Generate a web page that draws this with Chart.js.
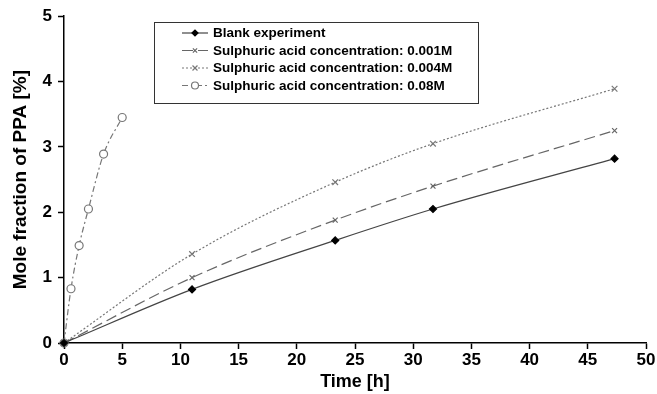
<!DOCTYPE html>
<html>
<head>
<meta charset="utf-8">
<script src="https://cdn.jsdelivr.net/npm/chart.js@4/dist/chart.umd.min.js"></script>
<style>
  html, body { margin: 0; padding: 0; background: #fff; }
  #wrap { width: 657px; height: 394px; }
</style>
</head>
<body>
<div id="wrap"><canvas id="ppaChart"></canvas></div>
<script>
// series values (time in h, mole fraction in %)
const blankTime = [0, 11, 23.3, 31.7, 47.3];
const blankValues = [0, 0.82, 1.57, 2.05, 2.82];

const acid001Time = [0, 11, 23.3, 31.7, 47.3];
const acid001Values = [0, 1.0, 1.88, 2.4, 3.25];

const acid004Time = [0, 11, 23.3, 31.7, 47.3];
const acid004Values = [0, 1.36, 2.46, 3.05, 3.89];

const acid08Time = [0, 0.6, 1.3, 2.1, 3.4, 5.0];
const acid08Values = [0, 0.83, 1.49, 2.05, 2.89, 3.45];

const seriesLabels = [
    'Blank experiment',
    'Sulphuric acid concentration: 0.001M',
    'Sulphuric acid concentration: 0.004M',
    'Sulphuric acid concentration: 0.08M'
];

const xTicks = [0, 5, 10, 15, 20, 25, 30, 35, 40, 45, 50];
const yTicks = [0, 1, 2, 3, 4, 5];

const fontFamily = 'Arial, "Liberation Sans", sans-serif';

function toPoints(xs, ys) {
    return xs.map((x, i) => ({ x: x, y: ys[i] }));
}

// legend drawn inside the plot, with a box around it
const boxLegend = {
    id: 'boxLegend',
    afterDraw(chart) {
        const ctx = chart.ctx;
        const left = 154, top = 22, width = 324, height = 81;
        ctx.save();
        ctx.strokeStyle = '#333';
        ctx.lineWidth = 1;
        ctx.strokeRect(left + 0.5, top + 0.5, width, height);
        ctx.font = 'bold 13.5px ' + fontFamily;
        ctx.textBaseline = 'middle';
        chart.data.datasets.forEach((ds, i) => {
            const y = top + 11 + i * 17.5;
            const x0 = left + 28, x1 = left + 54;
            ctx.strokeStyle = ds.borderColor;
            ctx.lineWidth = ds.borderWidth;
            ctx.setLineDash(ds.borderDash || []);
            ctx.beginPath();
            ctx.moveTo(x0, y);
            ctx.lineTo(x1, y);
            ctx.stroke();
            ctx.setLineDash([]);
            ctx.fillStyle = ds.pointBackgroundColor;
            ctx.strokeStyle = ds.pointBorderColor;
            Chart.helpers.drawPoint(ctx, {
                pointStyle: ds.pointStyle,
                radius: ds.pointRadius - 0.5,
                borderWidth: 1
            }, (x0 + x1) / 2, y);
            ctx.fillStyle = '#000';
            ctx.fillText(ds.label, left + 59, y + 0.5);
        });
        ctx.restore();
    }
};

const datasets = [
    {
        label: seriesLabels[0],
        data: toPoints(blankTime, blankValues),
        borderColor: '#444',
        borderWidth: 1.2,
        borderDash: [],
        pointStyle: 'rectRot',
        pointRadius: 3.5,
        pointBackgroundColor: '#000',
        pointBorderColor: '#000'
    },
    {
        label: seriesLabels[1],
        data: toPoints(acid001Time, acid001Values),
        borderColor: '#666',
        borderWidth: 1.2,
        borderDash: [11, 5],
        pointStyle: 'crossRot',
        pointRadius: 3.5,
        pointBackgroundColor: '#666',
        pointBorderColor: '#666'
    },
    {
        label: seriesLabels[2],
        data: toPoints(acid004Time, acid004Values),
        borderColor: '#777',
        borderWidth: 1.2,
        borderDash: [2, 2],
        pointStyle: 'crossRot',
        pointRadius: 4,
        pointBackgroundColor: '#777',
        pointBorderColor: '#777'
    },
    {
        label: seriesLabels[3],
        data: toPoints(acid08Time, acid08Values),
        borderColor: '#777',
        borderWidth: 1.2,
        borderDash: [6, 3, 2, 3],
        pointStyle: 'circle',
        pointRadius: 4,
        pointBackgroundColor: '#fff',
        pointBorderColor: '#777'
    }
];

new Chart(document.getElementById('ppaChart'), {
    type: 'line',
    data: { datasets: datasets },
    options: {
        responsive: true,
        maintainAspectRatio: false,
        animation: false,
        clip: false,
        layout: { padding: { left: 0, top: 16, right: 11, bottom: 0 } },
        elements: {
            line: { cubicInterpolationMode: 'monotone', fill: false },
            point: { borderWidth: 1.2 }
        },
        plugins: {
            legend: { display: false },
            tooltip: { enabled: false }
        },
        scales: {
            x: {
                type: 'linear',
                min: 0,
                max: 50,
                afterFit(scale) { scale.height = 51; },
                afterBuildTicks(scale) { scale.ticks = xTicks.map(v => ({ value: v })); },
                border: { color: '#000', width: 1.5 },
                grid: { drawOnChartArea: false, tickLength: 6, color: '#000', tickWidth: 1.5 },
                ticks: { color: '#000', font: { family: fontFamily, weight: 'bold', size: 17 }, padding: 1, maxRotation: 0 },
                title: {
                    display: true,
                    text: 'Time [h]',
                    color: '#000',
                    font: { family: fontFamily, weight: 'bold', size: 18 },
                    padding: { top: 0, bottom: 1 }
                }
            },
            y: {
                type: 'linear',
                min: 0,
                max: 5,
                afterFit(scale) { scale.width = 64; },
                afterBuildTicks(scale) { scale.ticks = yTicks.map(v => ({ value: v })); },
                border: { color: '#000', width: 1.5 },
                grid: { drawOnChartArea: false, tickLength: 6, color: '#000', tickWidth: 1.5 },
                ticks: { color: '#000', font: { family: fontFamily, weight: 'bold', size: 17 }, padding: 6 },
                title: {
                    display: true,
                    text: 'Mole fraction of PPA [%]',
                    color: '#000',
                    font: { family: fontFamily, weight: 'bold', size: 19 },
                    padding: { top: 9, bottom: 0 }
                }
            }
        }
    },
    plugins: [boxLegend]
});
</script>
</body>
</html>
